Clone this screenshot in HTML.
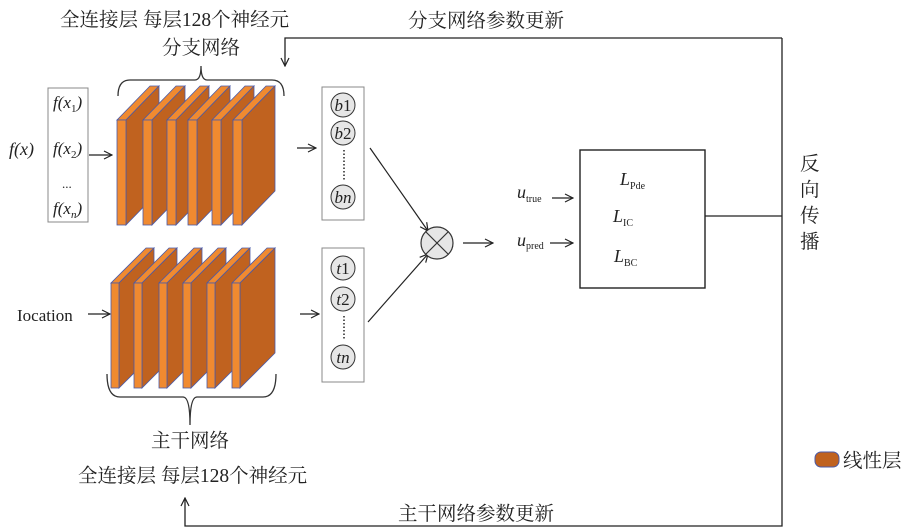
<!DOCTYPE html>
<html><head><meta charset="utf-8"><style>
html,body{margin:0;padding:0;background:#fff;}
svg{display:block;}
text{font-family:"Liberation Serif","Noto Serif CJK SC",serif;fill:#222;}
.cn{font-size:19.5px;}
.it{font-style:italic;}
</style></head><body>
<svg width="909" height="528" viewBox="0 0 909 528" xmlns="http://www.w3.org/2000/svg">
<defs>
<marker id="ah" markerWidth="10" markerHeight="10" refX="9" refY="5" orient="auto" markerUnits="userSpaceOnUse">
<path d="M1,1 L9,5 L1,9" fill="none" stroke="#222" stroke-width="1.2"/>
</marker>
<g id="slabT">
<polygon points="0,0 9,0 42,-34 33,-34" fill="#F08A30" stroke="#4a5aa8" stroke-width="0.8"/>
<polygon points="9,0 42,-34 42,71 9,105" fill="#C0621F" stroke="#4a5aa8" stroke-width="0.8"/>
<rect x="0" y="0" width="9" height="105" fill="#F08A30" stroke="#4a5aa8" stroke-width="0.8"/>
</g>
<g id="slabB">
<polygon points="0,0 8,0 43,-35 35,-35" fill="#F08A30" stroke="#4a5aa8" stroke-width="0.8"/>
<polygon points="8,0 43,-35 43,70 8,105" fill="#C0621F" stroke="#4a5aa8" stroke-width="0.8"/>
<rect x="0" y="0" width="8" height="105" fill="#F08A30" stroke="#4a5aa8" stroke-width="0.8"/>
</g>
</defs>

<text x="60" y="26" class="cn">全连接层 每层128个神经元</text>
<text x="162" y="54" class="cn">分支网络</text>
<text x="408" y="27" class="cn">分支网络参数更新</text>

<path d="M118,96 Q118,80 130,80 L195,80 Q201,80 201,66 Q201,80 207,80 L272,80 Q284,80 284,96" fill="none" stroke="#333" stroke-width="1.3"/>

<rect x="48" y="88" width="40" height="134" fill="#fff" stroke="#888" stroke-width="1"/>
<text x="53" y="108" class="it" font-size="17">f(x<tspan font-size="11" dy="4" font-style="normal">1</tspan><tspan dy="-4">)</tspan></text>
<text x="53" y="154" class="it" font-size="17">f(x<tspan font-size="11" dy="4" font-style="normal">2</tspan><tspan dy="-4">)</tspan></text>
<text x="62" y="188" font-size="13">...</text>
<text x="53" y="214" class="it" font-size="17">f(x<tspan font-size="11" dy="4">n</tspan><tspan dy="-4">)</tspan></text>
<text x="9" y="155" class="it" font-size="18">f(x)</text>
<line x1="89" y1="155" x2="112" y2="155" stroke="#222" stroke-width="1.2" marker-end="url(#ah)"/>

<use href="#slabT" x="117" y="120"/>
<use href="#slabT" x="143" y="120"/>
<use href="#slabT" x="167" y="120"/>
<use href="#slabT" x="188" y="120"/>
<use href="#slabT" x="212" y="120"/>
<use href="#slabT" x="233" y="120"/>

<use href="#slabB" x="111" y="283"/>
<use href="#slabB" x="134" y="283"/>
<use href="#slabB" x="159" y="283"/>
<use href="#slabB" x="183" y="283"/>
<use href="#slabB" x="207" y="283"/>
<use href="#slabB" x="232" y="283"/>

<text x="17" y="321" font-size="17">Iocation</text>
<line x1="88" y1="314" x2="110" y2="314" stroke="#222" stroke-width="1.2" marker-end="url(#ah)"/>

<path d="M107,374 Q107,397 120,397 L183,397 Q190,397 190,425 Q190,397 197,397 L263,397 Q276,397 276,374" fill="none" stroke="#333" stroke-width="1.3"/>
<text x="151" y="447" class="cn">主干网络</text>
<text x="78" y="482" class="cn">全连接层 每层128个神经元</text>
<text x="398" y="520" class="cn">主干网络参数更新</text>

<line x1="297" y1="148" x2="316" y2="148" stroke="#222" stroke-width="1.2" marker-end="url(#ah)"/>
<line x1="300" y1="314" x2="319" y2="314" stroke="#222" stroke-width="1.2" marker-end="url(#ah)"/>

<rect x="322" y="87" width="42" height="133" fill="#fff" stroke="#888" stroke-width="1"/>
<g fill="#e6e6e6" stroke="#333" stroke-width="1">
<circle cx="343" cy="105" r="12"/><circle cx="343" cy="133" r="12"/><circle cx="343" cy="197" r="12"/>
<circle cx="343" cy="268" r="12"/><circle cx="343" cy="299" r="12"/><circle cx="343" cy="357" r="12"/>
</g>
<text x="343" y="111" text-anchor="middle" font-size="17"><tspan font-style="italic">b</tspan>1</text>
<text x="343" y="139" text-anchor="middle" font-size="17"><tspan font-style="italic">b</tspan>2</text>
<text x="343" y="203" text-anchor="middle" font-size="17" font-style="italic">bn</text>
<line x1="344" y1="150" x2="344" y2="180" stroke="#333" stroke-width="1.6" stroke-dasharray="1.5,2"/>
<rect x="322" y="248" width="42" height="134" fill="none" stroke="#888" stroke-width="1"/>
<text x="343" y="274" text-anchor="middle" font-size="17"><tspan font-style="italic">t</tspan>1</text>
<text x="343" y="305" text-anchor="middle" font-size="17"><tspan font-style="italic">t</tspan>2</text>
<text x="343" y="363" text-anchor="middle" font-size="17" font-style="italic">tn</text>
<line x1="344" y1="316" x2="344" y2="340" stroke="#333" stroke-width="1.6" stroke-dasharray="1.5,2"/>

<line x1="370" y1="148" x2="428" y2="231" stroke="#222" stroke-width="1.2" marker-end="url(#ah)"/>
<line x1="368" y1="322" x2="428" y2="254" stroke="#222" stroke-width="1.2" marker-end="url(#ah)"/>
<circle cx="437" cy="243" r="16" fill="#e6e6e6" stroke="#333" stroke-width="1.2"/>
<line x1="426" y1="232" x2="448" y2="254" stroke="#333" stroke-width="1.2"/>
<line x1="448" y1="232" x2="426" y2="254" stroke="#333" stroke-width="1.2"/>
<line x1="463" y1="243" x2="493" y2="243" stroke="#222" stroke-width="1.2" marker-end="url(#ah)"/>

<text x="517" y="198" font-size="18" font-style="italic">u<tspan font-size="10" dy="4" font-style="normal">true</tspan></text>
<line x1="552" y1="198" x2="573" y2="198" stroke="#222" stroke-width="1.2" marker-end="url(#ah)"/>
<text x="517" y="246" font-size="18" font-style="italic">u<tspan font-size="10" dy="3" font-style="normal">pred</tspan></text>
<line x1="550" y1="243" x2="573" y2="243" stroke="#222" stroke-width="1.2" marker-end="url(#ah)"/>

<rect x="580" y="150" width="125" height="138" fill="#fff" stroke="#222" stroke-width="1.4"/>
<text x="620" y="185" font-size="18" font-style="italic">L<tspan font-size="10" dy="4" font-style="normal">Pde</tspan></text>
<text x="613" y="222" font-size="18" font-style="italic">L<tspan font-size="10" dy="4" font-style="normal">IC</tspan></text>
<text x="614" y="262" font-size="18" font-style="italic">L<tspan font-size="10" dy="4" font-style="normal">BC</tspan></text>

<line x1="705" y1="216" x2="782" y2="216" stroke="#222" stroke-width="1.3"/>
<polyline points="782,38 782,526 185,526 185,498" fill="none" stroke="#222" stroke-width="1.3" marker-end="url(#ah)"/>
<polyline points="782,38 285,38 285,66" fill="none" stroke="#222" stroke-width="1.3" marker-end="url(#ah)"/>

<text x="800" y="170" class="cn">反</text>
<text x="800" y="196" class="cn">向</text>
<text x="800" y="222" class="cn">传</text>
<text x="800" y="248" class="cn">播</text>

<rect x="815" y="452" width="24" height="15" rx="6" fill="#C0621F" stroke="#4a5aa8" stroke-width="1"/>
<text x="843" y="467" class="cn">线性层</text>
</svg>
</body></html>
